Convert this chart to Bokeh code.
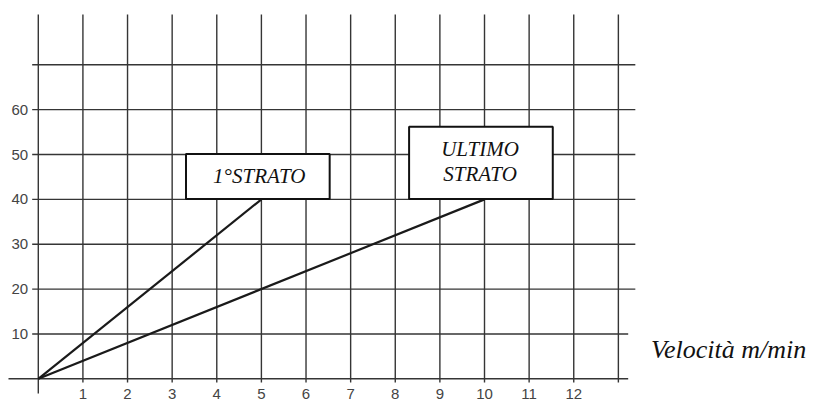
from bokeh.plotting import figure
from bokeh.models import Range1d
from bokeh.core.properties import value
from bokeh.embed import file_html
from bokeh.resources import INLINE

# ---- data ----
x_ticks = [1, 2, 3, 4, 5, 6, 7, 8, 9, 10, 11, 12]
x_tick_labels = ["1", "2", "3", "4", "5", "6", "7", "8", "9", "10", "11", "12"]
y_ticks = [10, 20, 30, 40, 50, 60]
y_tick_labels = ["10", "20", "30", "40", "50", "60"]
x_grid = [0, 1, 2, 3, 4, 5, 6, 7, 8, 9, 10, 11, 12, 13]
y_grid = [20, 30, 40, 50, 60, 70]
layers = ["1°STRATO", "ULTIMO STRATO"]
end_speed = [5, 10]
end_value = [40, 40]
x_title = "Velocità m/min"

GRID = "#353535"
LBL = "#444444"

p = figure(width=813, height=401,
           x_range=Range1d(-0.847, 17.373), y_range=Range1d(-5.06, 84.33),
           x_axis_type=None, y_axis_type=None,
           output_backend="svg", toolbar_location=None, min_border=0)
p.grid.visible = False
p.outline_line_color = None
p.background_fill_color = "white"
p.border_fill_color = "white"

# vertical grid lines (extend below axis as ticks)
top = 81.2
p.segment(x0=x_grid[1:], y0=[-0.8] * (len(x_grid) - 1), x1=x_grid[1:], y1=[top] * (len(x_grid) - 1),
          line_color=GRID, line_width=1.4)
p.segment(x0=[x_grid[0]], y0=[-3.3], x1=[x_grid[0]], y1=[top], line_color=GRID, line_width=1.4)
# horizontal grid lines
p.segment(x0=[-0.137] * len(y_grid), y0=y_grid, x1=[13.38] * len(y_grid), y1=y_grid,
          line_color=GRID, line_width=1.4)
p.segment(x0=[-0.137], y0=[10], x1=[13.22], y1=[10], line_color=GRID, line_width=1.4)
# x axis line
p.segment(x0=[-0.668], y0=[0], x1=[13.22], y1=[0], line_color=GRID, line_width=1.4)

# data lines
p.segment(x0=[0, 0], y0=[0, 0], x1=end_speed, y1=end_value, line_color="#1a1a1a", line_width=2.2)

# label boxes
bw = 3.22
p.quad(left=[s - 0.08 - bw / 2 for s in end_speed],
       right=[s - 0.08 + bw / 2 for s in end_speed],
       bottom=[v + 0.1 for v in end_value],
       top=[end_value[0] + 10.1, end_value[1] + 16.2],
       fill_color="white", line_color="#111111", line_width=2)

serif = value("Liberation Serif")
p.text(x=[end_speed[0] - 0.047], y=[45.2], text=[layers[0]], text_font=serif,
       text_font_style="italic", text_font_size="21px", text_align="center",
       text_baseline="middle", text_color="#111111")
l2 = layers[1].split(" ")
p.text(x=[end_speed[1] - 0.10] * 2, y=[51.15, 45.65], text=l2, text_font=serif,
       text_font_style="italic", text_font_size="21px", text_align="center",
       text_baseline="middle", text_color="#111111")

# tick labels
sans = value("Liberation Sans")
p.text(x=[-0.226] * len(y_ticks), y=y_ticks, text=y_tick_labels, text_font=sans,
       text_font_size="15px", text_align="right", text_baseline="middle", text_color=LBL)
p.text(x=x_ticks, y=[-2.3] * len(x_ticks), text=x_tick_labels, text_font=sans,
       text_font_size="15px", text_align="center", text_baseline="top", text_color=LBL)

# axis title
p.text(x=[13.73], y=[6.6], text=[x_title], text_font=serif, text_font_style="italic",
       text_font_size="26px", text_align="left", text_baseline="middle", text_color="#111111")

open("out.html", "w").write(file_html(p, INLINE))
